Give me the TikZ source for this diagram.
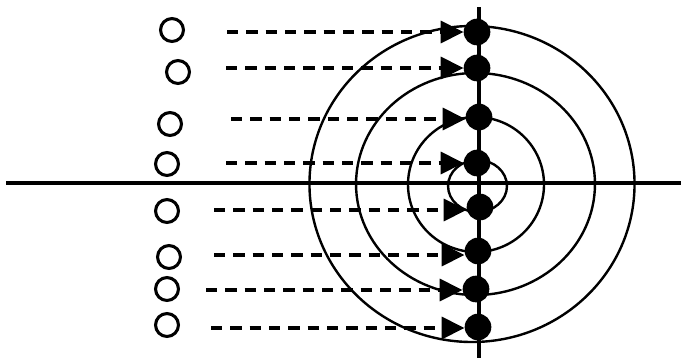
\documentclass[tikz,border=0pt]{standalone}
\usetikzlibrary{arrows.meta}
\begin{document}
\begin{tikzpicture}[x=0.75pt,y=-0.75pt,
  axisline/.style={line width=2.4pt},
  ring/.style={line width=1.8pt},
  dotnode/.style={circle,fill=black,inner sep=0pt,minimum size=20pt},
  opennode/.style={circle,draw=black,line width=2.3pt,inner sep=0pt,minimum size=17.2pt},
  dasharrow/.style={line width=2.6pt,dash pattern=on 8.5pt off 6pt,
    -{Triangle[length=17pt,width=16.5pt]}}]
\useasboundingbox (0,0) rectangle (681,358);
% axes
\coordinate (hl) at (6,183);
\coordinate (hr) at (681,183);
\coordinate (vt) at (479,7);
\coordinate (vb) at (479,358);
\draw[axisline] (hl) -- (hr);
\draw[axisline] (vt) -- (vb);
% rings
\draw[ring] (472,184) ellipse [x radius=121.9pt, y radius=118.5pt];
\draw[ring] (475.5,184) ellipse [x radius=89.6pt, y radius=83.25pt];
\draw[ring] (476,184.5) ellipse [x radius=51pt, y radius=50.6pt];
\draw[ring] (477.5,186) ellipse [x radius=22.1pt, y radius=19.5pt];
% open circles
\node[opennode] (s1) at (172,30) {};
\node[opennode] (s2) at (178,72) {};
\node[opennode] (s3) at (170,124) {};
\node[opennode] (s4) at (167,164) {};
\node[opennode] (s5) at (167,211) {};
\node[opennode] (s6) at (169,257) {};
\node[opennode] (s7) at (167,289) {};
\node[opennode] (s8) at (167,325) {};
% dots
\node[dotnode] (d1) at (477,32) {};
\node[dotnode] (d2) at (477,68) {};
\node[dotnode] (d3) at (479,117) {};
\node[dotnode] (d4) at (477,163) {};
\node[dotnode] (d5) at (480,207) {};
\node[dotnode] (d6) at (478,251) {};
\node[dotnode] (d7) at (476,289) {};
\node[dotnode] (d8) at (478,327) {};
% dashed arrows
\coordinate (a1) at (227,32);
\coordinate (a2) at (226,68);
\coordinate (a3) at (231,119);
\coordinate (a4) at (226,163);
\coordinate (a5) at (214,210);
\coordinate (a6) at (214,255);
\coordinate (a7) at (206,290);
\coordinate (a8) at (211,328);
\foreach \i in {1,...,8}{
  \draw[dasharrow] (a\i) -- (a\i -| d\i.west);
}
\end{tikzpicture}
\end{document}
